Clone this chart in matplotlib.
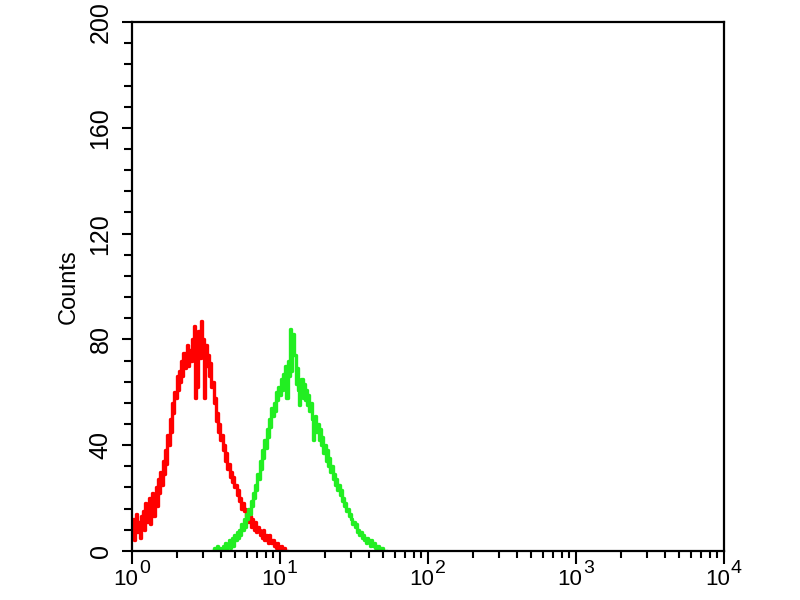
import matplotlib
matplotlib.use("Agg")
import matplotlib.pyplot as plt
from matplotlib.ticker import FixedLocator, LogLocator, NullFormatter
import numpy as np

# histogram channels: 128 channels per decade, counts
channels_per_decade = 128
red_start = 0
red_counts = [
    6, 12, 4, 10, 14, 7, 11, 5, 13, 9,
    15, 8, 18, 11, 14, 20, 10, 16, 22, 13,
    19, 24, 17, 27, 22, 30, 25, 34, 29, 38,
    33, 44, 40, 50, 45, 56, 52, 60, 58, 66,
    61, 68, 64, 72, 66, 75, 69, 71, 78, 70,
    76, 72, 80, 74, 85, 58, 79, 62, 83, 73,
    87, 76, 80, 58, 78, 70, 74, 66, 71, 62,
    64, 56, 58, 49, 52, 45, 48, 42, 44, 38,
    40, 34, 37, 31, 33, 28, 30, 26, 28, 24,
    25, 21, 23, 19, 20, 16, 18, 15, 16, 13,
    14, 11, 13, 9, 12, 10, 8, 11, 7, 9,
    8, 6, 7, 5, 8, 4, 6, 5, 3, 6, 4, 3,
    4, 2, 3, 1, 3, 2, 0, 2, 1, 0, 1, 0, 0,
]
green_start = 70
green_counts = [
    0, 1, 0, 0, 2, 0, 1, 0, 1, 2,
    1, 3, 0, 2, 4, 1, 3, 5, 2, 6,
    4, 7, 5, 8, 6, 10, 8, 12, 9, 14,
    12, 16, 14, 19, 17, 22, 20, 25, 23, 29,
    27, 34, 31, 38, 35, 42, 39, 46, 43, 50,
    47, 54, 51, 56, 53, 60, 57, 62, 59, 65,
    61, 67, 63, 70, 58, 72, 66, 84, 68, 76,
    82, 74, 63, 69, 61, 55, 60, 65, 58, 63,
    57, 61, 55, 59, 53, 56, 50, 42, 47, 51,
    45, 48, 42, 46, 40, 43, 37, 40, 34, 38,
    32, 35, 30, 32, 27, 29, 25, 27, 23, 25,
    21, 23, 19, 20, 17, 18, 15, 16, 13, 14,
    12, 10, 11, 9, 10, 7, 8, 6, 7, 5,
    6, 4, 5, 3, 5, 4, 2, 4, 3, 2,
    3, 1, 2, 2, 1, 0, 1, 1, 0, 0, 0,
]
y_ticks = [0, 40, 80, 120, 160, 200]
x_decades = [0, 1, 2, 3, 4]


def channel_x(start, n):
    return 10 ** ((start + np.arange(n)) / channels_per_decade)


plt.rcParams['font.family'] = ['Liberation Sans', 'DejaVu Sans']

fig = plt.figure(figsize=(8, 6), dpi=100)
ax = fig.add_axes([0.165, 0.082, 0.74, 0.881])

ax.plot(channel_x(red_start, len(red_counts)), red_counts,
        color='#ff0000', lw=2.4, drawstyle='steps-mid')
ax.plot(channel_x(green_start, len(green_counts)), green_counts,
        color='#22ee22', lw=2.4, drawstyle='steps-mid')

ax.set_xscale('log')
ax.set_xlim(1, 10 ** 4)
ax.set_ylim(0, 200)

# x labels: "10" with a large exponent, drawn by hand
ax.set_xticks([10 ** d for d in x_decades])
ax.set_xticklabels([])
for d in x_decades:
    ax.annotate('10', xy=(10 ** d, 0), xycoords=('data', 'axes fraction'),
                xytext=(4.5, -13), textcoords='offset points',
                ha='right', va='top', fontsize=16)
    ax.annotate(str(d), xy=(10 ** d, 0), xycoords=('data', 'axes fraction'),
                xytext=(5, -6.5), textcoords='offset points',
                ha='left', va='top', fontsize=14)
ax.xaxis.set_minor_locator(LogLocator(base=10, subs=np.arange(2, 10), numticks=20))
ax.xaxis.set_minor_formatter(NullFormatter())

ax.set_yticks(y_ticks)
ax.set_yticklabels([str(v) for v in y_ticks], rotation=90, va='center')
ax.yaxis.set_minor_locator(FixedLocator(np.arange(0, 201, 8)))

ax.tick_params(axis='both', which='major', direction='out', width=1.5,
               color='black')
ax.tick_params(axis='x', which='major', length=9)
ax.tick_params(axis='y', which='major', length=7, pad=7, labelsize=18)
ax.tick_params(axis='x', which='minor', direction='out', length=5, width=1.5)
ax.tick_params(axis='y', which='minor', direction='out', length=6, width=1.5)

for s in ax.spines.values():
    s.set_linewidth(1.6)

ax.set_ylabel('Counts', fontsize=17, labelpad=6)

fig.savefig('out.png', dpi=100)
